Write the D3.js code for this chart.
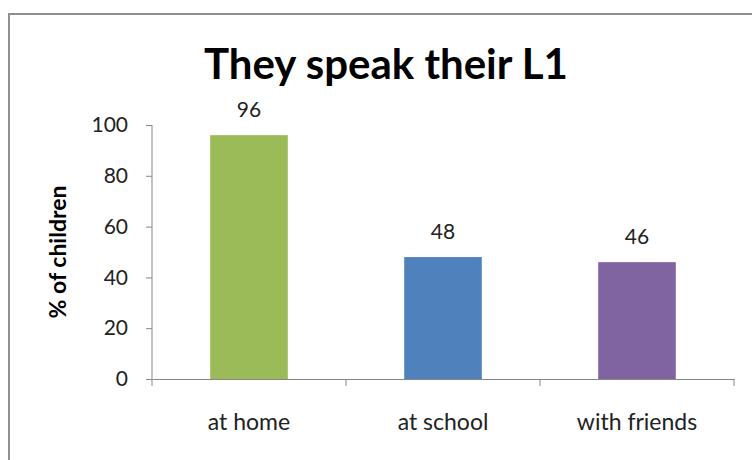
<!DOCTYPE html>
<html><head><meta charset="utf-8">
<script src="https://cdn.jsdelivr.net/npm/d3@7"></script>
<style>body{margin:0;background:#fff;}svg{display:block;}</style>
</head><body>
<script>
const categories = ["at home", "at school", "with friends"];
const values = [96, 48, 46];
const colors = ["#9BBB59", "#4F81BD", "#8064A2"];
const yTicks = [0, 20, 40, 60, 80, 100];
const title = "They speak their L1";
const yTitle = "% of children";

const W = 752, H = 460;
const font = "Lato, 'Open Sans', sans-serif";
const svg = d3.select("body").append("svg").attr("width", W).attr("height", H);
svg.append("rect").attr("x", 0).attr("y", 0).attr("width", W).attr("height", H).attr("fill", "#fff");
svg.append("rect").attr("x", 9).attr("y", 14).attr("width", 770).attr("height", 480)
  .attr("fill", "none").attr("stroke", "#8f8f8f").attr("stroke-width", 2);

const x = d3.scaleBand().domain(categories).range([152, 734]).paddingInner(0.6).paddingOuter(0.3);
const xb = d3.scaleBand().domain(categories).range([152, 734]);
const y = d3.scaleLinear().domain([0, 100]).range([379, 125]);

// y axis
const ya = svg.append("g").attr("transform", "translate(152,0)")
  .call(d3.axisLeft(y).tickValues(yTicks).tickSize(6).tickPadding(18));
ya.select(".domain").attr("stroke", "#868686").attr("d", `M0,${y(100)}V${y(0)}`);
ya.selectAll(".tick line").attr("stroke", "#868686");
ya.selectAll("text").attr("font-family", font).attr("font-size", 21).attr("fill", "#222");

// x axis
const xa = svg.append("g").attr("transform", `translate(0,${y(0)})`)
  .call(d3.axisBottom(xb).tickSize(0).tickPadding(35));
xa.select(".domain").attr("stroke", "#868686");
xa.selectAll("text").attr("font-family", font).attr("font-size", 23).attr("fill", "#222");
const bounds = [152].concat(categories.map(c => xb(c) + xb.bandwidth()));
svg.append("g").selectAll("line").data(bounds).join("line")
  .attr("x1", d => d).attr("x2", d => d).attr("y1", y(0)).attr("y2", y(0) + 7)
  .attr("stroke", "#868686");

// bars
svg.append("g").selectAll("rect").data(values).join("rect")
  .attr("x", (d, i) => x(categories[i])).attr("width", x.bandwidth())
  .attr("y", d => y(d)).attr("height", d => y(0) - y(d))
  .attr("fill", (d, i) => colors[i]);

// labels
svg.append("g").selectAll("text").data(values).join("text")
  .attr("x", (d, i) => x(categories[i]) + x.bandwidth() / 2)
  .attr("y", d => y(d) - 18)
  .attr("text-anchor", "middle").attr("font-family", font).attr("font-size", 21).attr("fill", "#222")
  .text(d => d);

// title
svg.append("text").attr("x", 386).attr("y", 79).attr("text-anchor", "middle")
  .attr("font-family", font).attr("font-weight", "bold").attr("font-size", 42).attr("fill", "#000")
  .text(title);

// y title
svg.append("text").attr("transform", `translate(66,252) rotate(-90)`).attr("text-anchor", "middle")
  .attr("font-family", font).attr("font-weight", "bold").attr("font-size", 23).attr("fill", "#000")
  .text(yTitle);
</script>
</body></html>
